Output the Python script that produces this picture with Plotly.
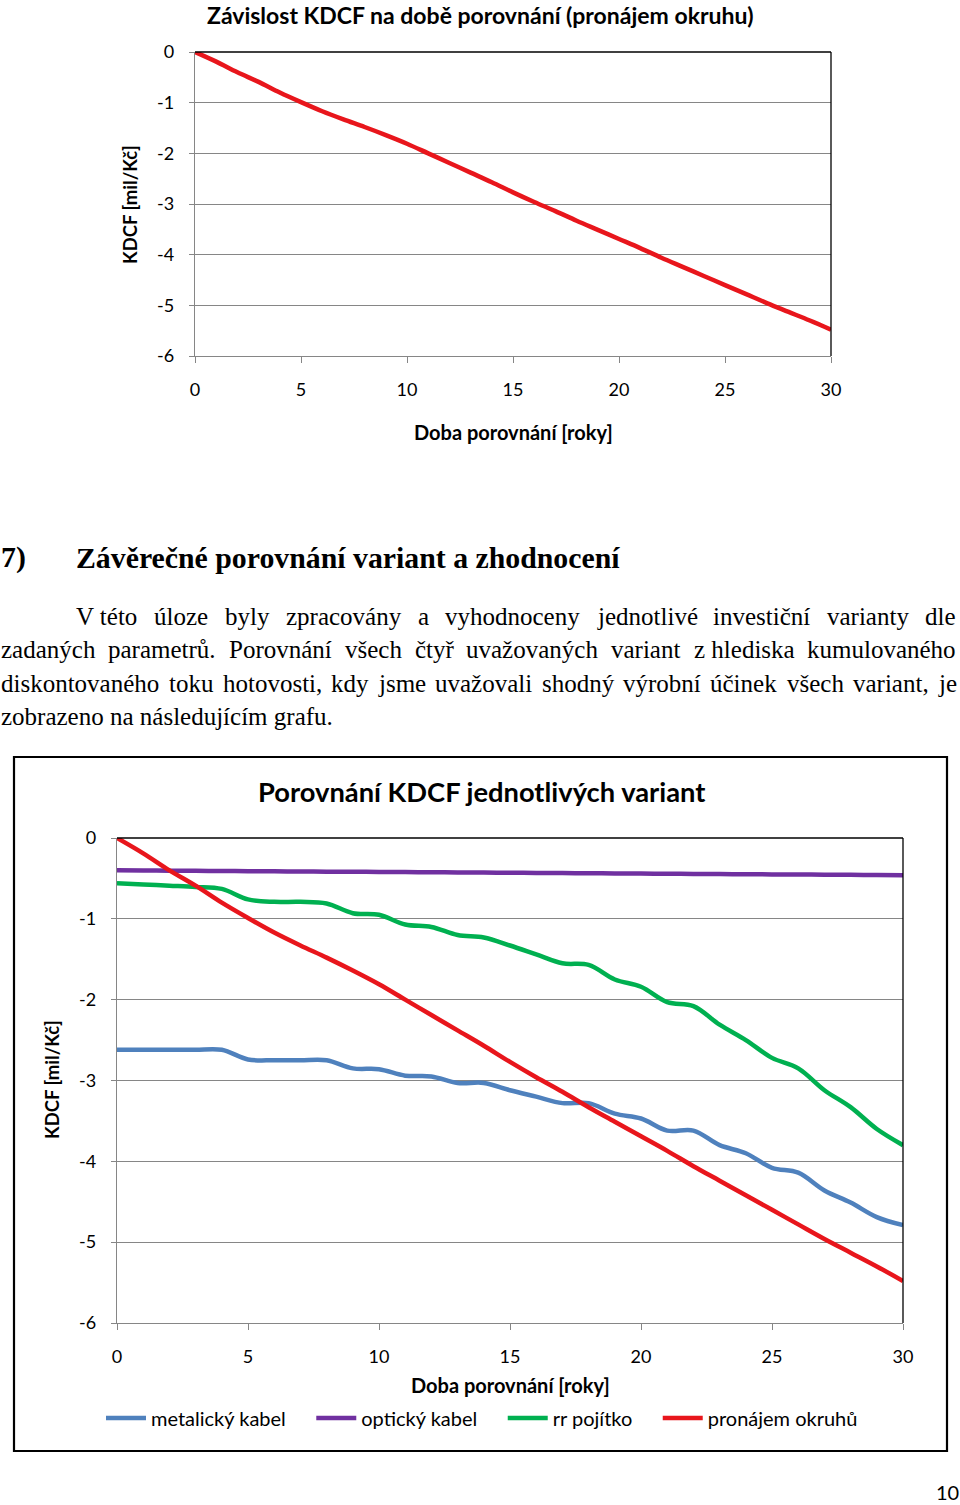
import plotly.graph_objects as go

W, H = 960, 1505

# ---------------- data ----------------
years = list(range(31))
metal = [-2.62, -2.62, -2.62, -2.62, -2.62, -2.74, -2.75, -2.75, -2.75, -2.85,
         -2.86, -2.94, -2.95, -3.03, -3.03, -3.12, -3.20, -3.28, -3.28, -3.41,
         -3.47, -3.62, -3.62, -3.80, -3.90, -4.08, -4.14, -4.36, -4.51, -4.69, -4.79]
optic = [-0.400, -0.402, -0.404, -0.406, -0.408, -0.410, -0.412, -0.414, -0.416, -0.418,
         -0.420, -0.422, -0.424, -0.426, -0.428, -0.430, -0.432, -0.434, -0.436, -0.438,
         -0.440, -0.442, -0.444, -0.446, -0.448, -0.450, -0.452, -0.454, -0.456, -0.458, -0.460]
rr = [-0.56, -0.575, -0.59, -0.605, -0.63, -0.76, -0.79, -0.79, -0.81, -0.93,
      -0.95, -1.07, -1.10, -1.20, -1.23, -1.33, -1.44, -1.55, -1.57, -1.75,
      -1.84, -2.03, -2.08, -2.31, -2.50, -2.72, -2.85, -3.12, -3.33, -3.60, -3.80]
lease = [0.0, -0.19, -0.40, -0.59, -0.80, -0.99, -1.17, -1.33, -1.48, -1.64,
         -1.81, -2.00, -2.19, -2.38, -2.57, -2.77, -2.96, -3.14, -3.33, -3.51,
         -3.69, -3.87, -4.06, -4.24, -4.42, -4.60, -4.78, -4.96, -5.13, -5.30, -5.48]
series_names = ["metalický kabel", "optický kabel", "rr pojítko", "pronájem okruhů"]
xtick_vals = [0, 5, 10, 15, 20, 25, 30]
ytick_vals = [0, -1, -2, -3, -4, -5, -6]
ytick_text = ["0", "-1", "-2", "-3", "-4", "-5", "-6"]

title_top = "Závislost KDCF na době porovnání (pronájem okruhu)"
title_bottom = "Porovnání KDCF jednotlivých variant"
x_title = "Doba porovnání [roky]"
y_title = "KDCF [mil/Kč]"
heading_num = "7)"
heading = "Závěrečné porovnání variant a zhodnocení"
para_lines = [
    ["V této", "úloze", "byly", "zpracovány", "a", "vyhodnoceny", "jednotlivé",
     "investiční", "varianty", "dle"],
    ["zadaných", "parametrů.", "Porovnání", "všech", "čtyř", "uvažovaných",
     "variant", "z hlediska", "kumulovaného"],
    ["diskontovaného", "toku", "hotovosti,", "kdy", "jsme", "uvažovali", "shodný",
     "výrobní", "účinek", "všech", "variant,", "je"],
    ["zobrazeno na následujícím grafu."],
]
page_no = "10"

# ---------------- style ----------------
SANS = "Lato, 'Open Sans', sans-serif"
SERIF = "'Liberation Serif', 'Times New Roman', serif"
GRID = "#868686"
COLORS = ["#4F81BD", "#7030A0", "#00B050", "#E8161C"]
LEG_PAD = "\u00a0" * 4


def px(x):
    return x / W


def py(y):
    return 1 - y / H


# Times metrics (per 1000 em) to justify lines
CW = {' ': 250, '.': 250, ',': 250, 'V': 722, 'P': 556,
      'a': 444, 'b': 500, 'c': 444, 'd': 500, 'e': 444, 'f': 333, 'g': 500,
      'h': 500, 'i': 278, 'j': 278, 'k': 500, 'l': 278, 'm': 778, 'n': 500,
      'o': 500, 'p': 500, 'r': 333, 's': 389, 't': 278, 'u': 500, 'v': 500,
      'y': 500, 'z': 444}
ACC = {'á': 'a', 'é': 'e', 'ě': 'e', 'í': 'i', 'ó': 'o', 'ú': 'u', 'ů': 'u',
       'ý': 'y', 'č': 'c', 'ň': 'n', 'ř': 'r', 'š': 's', 'ž': 'z'}


def tw(s, size):
    return sum(CW.get(ACC.get(ch, ch), 500) for ch in s) * size / 1000.0


fig = go.Figure()

# top chart
fig.add_trace(go.Scatter(x=years, y=lease, mode="lines", showlegend=False,
                         line=dict(color=COLORS[3], width=4.5, shape="spline"),
                         xaxis="x", yaxis="y", hoverinfo="skip"))
# bottom chart
for name, vals, col in zip(series_names, [metal, optic, rr, lease], COLORS):
    fig.add_trace(go.Scatter(x=years, y=vals, mode="lines", name=name + LEG_PAD,
                             line=dict(color=col, width=4.5, shape="spline"),
                             xaxis="x2", yaxis="y2"))

axis_common = dict(showline=True, linecolor=GRID, linewidth=1.3, zeroline=False,
                   ticks="outside", tickcolor=GRID, tickwidth=1.3,
                   tickfont=dict(size=18, color="black", family=SANS))

fig.update_layout(
    xaxis=dict(domain=[px(195), px(831)], anchor="y", range=[0, 30],
               tickvals=xtick_vals, showgrid=False, ticklen=6,
               ticklabelstandoff=11, **axis_common),
    yaxis=dict(domain=[py(356), py(52)], anchor="x", range=[-6, 0],
               tickvals=ytick_vals, ticktext=ytick_text, showgrid=True,
               gridcolor=GRID, gridwidth=1.3, ticklen=5, ticklabelstandoff=11,
               **axis_common),
    xaxis2=dict(domain=[px(117), px(903)], anchor="y2", range=[0, 30],
                tickvals=xtick_vals, showgrid=False, ticklen=6,
                ticklabelstandoff=11, **axis_common),
    yaxis2=dict(domain=[py(1323), py(838)], anchor="x2", range=[-6, 0],
                tickvals=ytick_vals, ticktext=ytick_text, showgrid=True,
                gridcolor=GRID, gridwidth=1.3, ticklen=5, ticklabelstandoff=11,
                **axis_common),
)

shapes = []
for xr, yr in [("x domain", "y domain"), ("x2 domain", "y2 domain")]:
    shapes.append(dict(type="line", xref=xr, yref=yr, x0=0, x1=1, y0=1, y1=1,
                       line=dict(color="black", width=1.3)))
    shapes.append(dict(type="line", xref=xr, yref=yr, x0=1, x1=1, y0=0, y1=1,
                       line=dict(color="black", width=1.3)))
# bottom chart outer frame
shapes.append(dict(type="rect", xref="paper", yref="paper",
                   x0=px(14), x1=px(947), y0=py(1451), y1=py(757),
                   line=dict(color="black", width=2.2), fillcolor="white",
                   layer="below"))

ann = []


def add_text(text, x, y, size, family=SANS, bold=False, xanchor="center",
             angle=0, color="black"):
    t = "<b>%s</b>" % text if bold else text
    ann.append(dict(text=t, x=px(x), y=py(y), xref="paper", yref="paper",
                    showarrow=False, xanchor=xanchor, yanchor="middle",
                    textangle=angle, borderpad=0,
                    font=dict(size=size, family=family, color=color)))


# top chart texts
add_text(title_top, 480, 15, 23, bold=True)
add_text(x_title, 513, 432, 20, bold=True)
add_text(y_title, 130, 205, 18.5, bold=True, angle=-90)
# bottom chart texts
add_text(title_bottom, 481, 791, 27.3, bold=True)
add_text(x_title, 510, 1385, 20, bold=True)
add_text(y_title, 52, 1080, 18.5, bold=True, angle=-90)

# heading
add_text(heading_num, 0, 557, 29.8, family=SERIF, bold=True, xanchor="left")
add_text(heading, 75, 557, 29.8, family=SERIF, bold=True, xanchor="left")

# justified paragraph
FS = 25
RIGHT = 955
line_y = [616, 650, 683, 716]
line_x0 = [75, 0, 0, 0]
for i, words in enumerate(para_lines):
    y = line_y[i]
    x0 = line_x0[i]
    if i < 3:
        total = sum(tw(w, FS) for w in words)
        gap = (RIGHT - x0 - total) / (len(words) - 1)
        x = x0
        for w in words:
            add_text(w, x, y, FS, family=SERIF, xanchor="left")
            x += tw(w, FS) + gap
    else:
        add_text(words[0], x0, y, FS, family=SERIF, xanchor="left")

add_text(page_no, 947, 1492, 20, family=SANS)

fig.update_layout(
    width=W, height=H,
    margin=dict(l=0, r=0, t=0, b=0, pad=0, autoexpand=False),
    paper_bgcolor="white", plot_bgcolor="white",
    font=dict(family=SANS, color="black"),
    shapes=shapes, annotations=ann,
    legend=dict(orientation="h", x=px(101), y=py(1418), xanchor="left",
                yanchor="middle", font=dict(size=20, family=SANS, color="black"),
                bgcolor="rgba(0,0,0,0)", itemwidth=40, tracegroupgap=0),
)

fig.write_html("out.html")
